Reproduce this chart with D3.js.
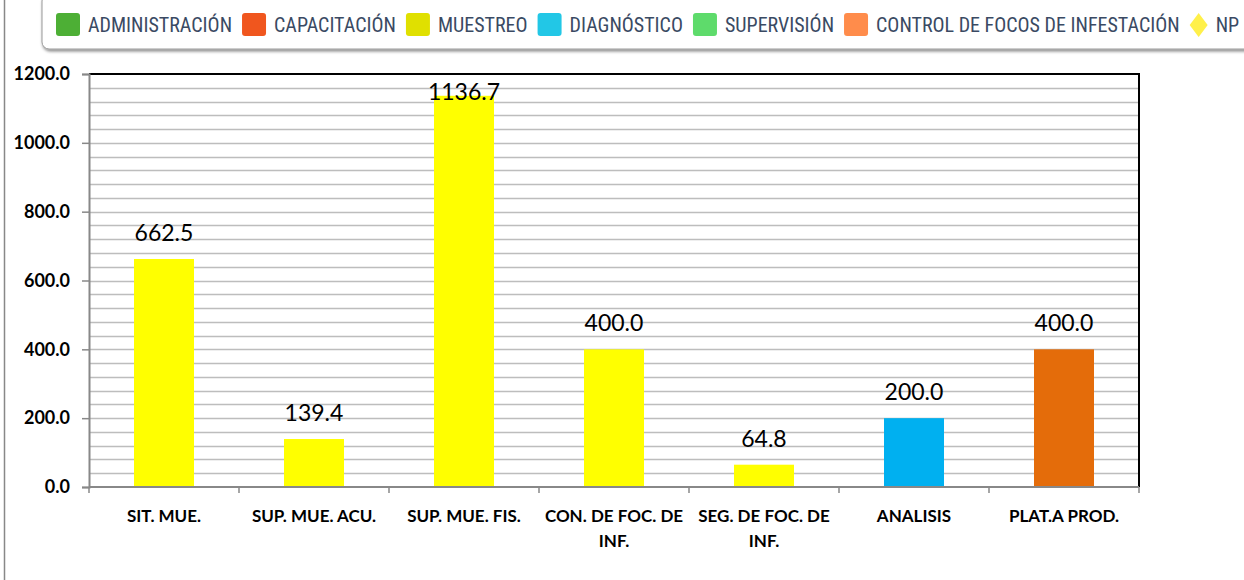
<!DOCTYPE html>
<html><head><meta charset="utf-8">
<script src="https://cdn.jsdelivr.net/npm/d3@7"></script>
<style>
body{margin:0;background:#fff;}
svg{display:block;}
</style></head><body>
<svg id="c" width="1244" height="580"></svg>
<script>
const categories = [["SIT. MUE."],["SUP. MUE. ACU."],["SUP. MUE. FIS."],["CON. DE FOC. DE","INF."],["SEG. DE FOC. DE","INF."],["ANALISIS"],["PLAT.A PROD."]];
const values = [662.5, 139.4, 1136.7, 400.0, 64.8, 200.0, 400.0];
const barColors = ["#FFFF00","#FFFF00","#FFFF00","#FFFF00","#FFFF00","#00B0F0","#E46C0A"];
const yTicks = [0,200,400,600,800,1000,1200];
const legendNames = ["ADMINISTRACIÓN","CAPACITACIÓN","MUESTREO","DIAGNÓSTICO","SUPERVISIÓN","CONTROL DE FOCOS DE INFESTACIÓN","NP"];
const legendColors = ["#4DAF35","#F0561E","#E0E000","#22C7E6","#5EDB6B","#FF8C4B","#FFF04A"];

const svg = d3.select("#c");
const m = {l:89, r:1139, t:74, b:487};

svg.append("line").attr("x1",4.5).attr("x2",4.5).attr("y1",0).attr("y2",580).attr("stroke","#888").attr("stroke-width",1.5);

const defs = svg.append("defs");
const f = defs.append("filter").attr("id","sh").attr("x","-5%").attr("y","-30%").attr("width","110%").attr("height","180%");
f.append("feDropShadow").attr("dx",1).attr("dy",2).attr("stdDeviation",1.5).attr("flood-color","#000").attr("flood-opacity",0.45);
svg.append("rect").attr("x",42).attr("y",-6).attr("width",1230).attr("height",55).attr("rx",7)
  .attr("fill","#fff").attr("stroke","#9a9a9a").attr("stroke-width",1).attr("filter","url(#sh)");

const lg = svg.append("g").attr("font-family","'Liberation Sans Narrow','Arial Narrow','Roboto Condensed',sans-serif").attr("font-size",20).attr("fill","#3a4a63");
let lx = 56;
legendNames.forEach((n,i)=>{
  if(i===legendNames.length-1){
    lg.append("path").attr("d",`M${lx+9},13 L${lx+18},25 L${lx+9},37 L${lx},25 Z`).attr("fill",legendColors[i]);
    lx += 26;
  } else {
    lg.append("rect").attr("x",lx).attr("y",13).attr("width",24).attr("height",23).attr("rx",3).attr("fill",legendColors[i]);
    lx += 32;
  }
  const t = lg.append("text").attr("x",lx).attr("y",32).text(n);
  lx += t.node().getComputedTextLength() + 10;
});

const x = d3.scaleBand().domain(d3.range(values.length)).range([m.l,m.r]).padding(0);
const y = d3.scaleLinear().domain([0,1200]).range([m.b,m.t]);

svg.append("g").selectAll("line").data(d3.range(40,1200,40)).join("line")
  .attr("x1",m.l).attr("x2",m.r).attr("y1",d=>Math.round(y(d))+0.5).attr("y2",d=>Math.round(y(d))+0.5)
  .attr("stroke","#bdbdbd").attr("stroke-width",1.5);

svg.append("line").attr("x1",m.l).attr("x2",m.r+1).attr("y1",m.t).attr("y2",m.t).attr("stroke","#000").attr("stroke-width",2);
svg.append("line").attr("x1",m.r).attr("x2",m.r).attr("y1",m.t).attr("y2",m.b).attr("stroke","#000").attr("stroke-width",2);

const bw = x.bandwidth()*0.4;
svg.append("g").selectAll("rect").data(values).join("rect")
  .attr("x",(d,i)=>x(i)+x.bandwidth()/2-bw/2).attr("width",bw)
  .attr("y",d=>y(d)).attr("height",d=>m.b-y(d)).attr("fill",(d,i)=>barColors[i]);

svg.append("g").attr("font-family","Lato,'Open Sans',sans-serif").attr("font-size",23).attr("fill","#000")
  .selectAll("text").data(values).join("text")
  .attr("x",(d,i)=>x(i)+x.bandwidth()/2).attr("y",d=>Math.max(y(d)-18,100))
  .attr("text-anchor","middle").text(d=>d.toFixed(1));

const ya = svg.append("g").attr("transform",`translate(${m.l},0)`)
  .call(d3.axisLeft(y).tickValues(yTicks).tickFormat(d=>d.toFixed(1)).tickSize(7).tickPadding(12));
ya.select(".domain").attr("stroke","#888").attr("stroke-width",2);
ya.selectAll(".tick line").attr("stroke","#888").attr("stroke-width",1.5);
ya.selectAll("text").attr("font-family","Lato,sans-serif").attr("font-weight","bold").attr("font-size",18).attr("fill","#000");

const xa = svg.append("g").attr("transform",`translate(0,${m.b})`);
xa.append("line").attr("x1",m.l).attr("x2",m.r).attr("y1",0).attr("y2",0).attr("stroke","#888").attr("stroke-width",2);
xa.selectAll("line.t").data(d3.range(values.length+1)).join("line").attr("class","t")
  .attr("x1",i=>m.l+i*x.bandwidth()).attr("x2",i=>m.l+i*x.bandwidth()).attr("y1",0).attr("y2",6)
  .attr("stroke","#888").attr("stroke-width",1.5);
const xl = xa.selectAll("text").data(categories).join("text")
  .attr("text-anchor","middle").attr("font-family","Lato,sans-serif").attr("font-weight","bold").attr("font-size",17).attr("fill","#000");
xl.each(function(lines,i){
  const t=d3.select(this);
  lines.forEach((s,j)=>t.append("tspan").attr("x",x(i)+x.bandwidth()/2).attr("y",35+j*25).text(s));
});
</script>
</body></html>
